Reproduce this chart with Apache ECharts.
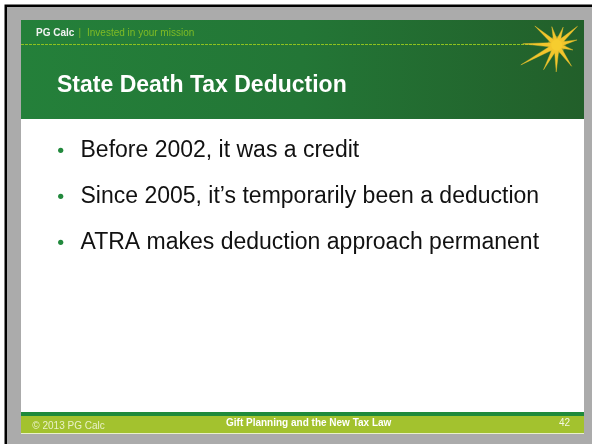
<!DOCTYPE html>
<html>
<head>
<meta charset="utf-8">
<script src="https://cdn.jsdelivr.net/npm/echarts@6/dist/echarts.min.js"></script>
<style>
  html, body { margin: 0; padding: 0; background: #ffffff; }
  #chart { width: 592px; height: 444px; }
</style>
</head>
<body>
<div id="chart"></div>
<script>
// ---- content ----
const brand = 'PG Calc';
const tagline = 'Invested in your mission';
const slideTitle = 'State Death Tax Deduction';
const bullets = [
  'Before 2002, it was a credit',
  'Since 2005, it\u2019s temporarily been a deduction',
  'ATRA makes deduction approach permanent'
];
const footerLeft = '\u00A9 2013 PG Calc';
const footerCenter = 'Gift Planning and the New Tax Law';
const pageNumber = '42';
// starburst rays: [angle in degrees, length in px]
const rayAngles = [-139, -105, -70, -42, -14, 17, 55, 91, 118, 151, 182];
const rayLengths = [29, 19, 19, 28, 21, 17, 26, 27, 28, 41, 34];

const FONT = 'Liberation Sans';

function txt(text, x, y, size, color, weight, align) {
  return {
    type: 'text', silent: true,
    style: {
      text: text, x: x, y: y,
      fontFamily: FONT, fontSize: size, fontWeight: weight || 'normal',
      fill: color,
      align: align || 'left', verticalAlign: 'middle',
      textAlign: align || 'left', textVerticalAlign: 'middle'
    }
  };
}

const els = [];
// page backdrop
els.push({ type: 'rect', shape: { x: 0, y: 0, width: 592, height: 444 }, style: { fill: '#ffffff' } });
els.push({ type: 'rect', shape: { x: 4.5, y: 4.5, width: 588, height: 440 }, style: { fill: '#000000' } });
els.push({ type: 'rect', shape: { x: 7, y: 7, width: 585, height: 437 }, style: { fill: '#ababab' } });
// slide body
els.push({ type: 'rect', shape: { x: 21, y: 20, width: 563, height: 414 }, style: { fill: '#ffffff' } });
// header band
els.push({
  type: 'rect', shape: { x: 21, y: 20, width: 563, height: 99 },
  style: { fill: new echarts.graphic.LinearGradient(0, 0, 1, 0, [
    { offset: 0, color: '#24803a' }, { offset: 0.5, color: '#237636' }, { offset: 1, color: '#225f2a' }
  ]) }
});
els.push({ type: 'line', shape: { x1: 21, y1: 44.5, x2: 540, y2: 44.5 },
  style: { stroke: '#8ec21e', lineWidth: 1, lineDash: [3, 1] } });
els.push(txt(brand, 36, 33.5, 10, '#f2f2f2', 'bold'));
els.push(txt('|', 78.5, 33.5, 10, '#78b52a'));
els.push(txt(tagline, 87, 33.5, 10, '#7fbb25'));
els.push(txt(slideTitle, 57, 85.5, 23, '#ffffff', 'bold'));

// starburst
const cx = 556.7, cy = 45;
els.push({ type: 'circle', shape: { cx: cx, cy: cy, r: 9 }, style: { fill: 'rgba(246,205,47,0.35)' } });
rayAngles.forEach(function (a, i) {
  const r = a * Math.PI / 180, len = rayLengths[i], w = 2.6;
  const px = -Math.sin(r) * w, py = Math.cos(r) * w;
  els.push({
    type: 'polygon',
    shape: { points: [[cx + px, cy + py], [cx + Math.cos(r) * len, cy + Math.sin(r) * len], [cx - px, cy - py]] },
    style: { fill: '#f3c52c', stroke: 'rgba(243,197,44,0.5)', lineWidth: 0.8 }
  });
});
els.push({ type: 'circle', shape: { cx: cx, cy: cy, r: 5.5 }, style: { fill: '#f6cd2f' } });

// bullets
bullets.forEach(function (b, i) {
  const y = 150.3 + i * 46;
  els.push({ type: 'circle', shape: { cx: 60.7, cy: y, r: 2.6 }, style: { fill: '#22893d' } });
  els.push(txt(b, 80.5, y, 23, '#111111'));
});

// footer
els.push({ type: 'rect', shape: { x: 21, y: 412, width: 563, height: 4 }, style: { fill: '#1f8a3b' } });
els.push({ type: 'rect', shape: { x: 21, y: 416, width: 563, height: 17.3 }, style: { fill: '#a3c22e' } });
els.push(txt(footerLeft, 32.3, 426, 10, '#eaf1c8'));
els.push(txt(footerCenter, 226, 423.3, 10, '#ffffff', 'bold'));
els.push(txt(pageNumber, 570, 423.3, 10, '#f4f7e4', 'normal', 'right'));

const chart = echarts.init(document.getElementById('chart'), null, { renderer: 'canvas' });
chart.setOption({ animation: false, graphic: { elements: els } });
</script>
</body>
</html>
